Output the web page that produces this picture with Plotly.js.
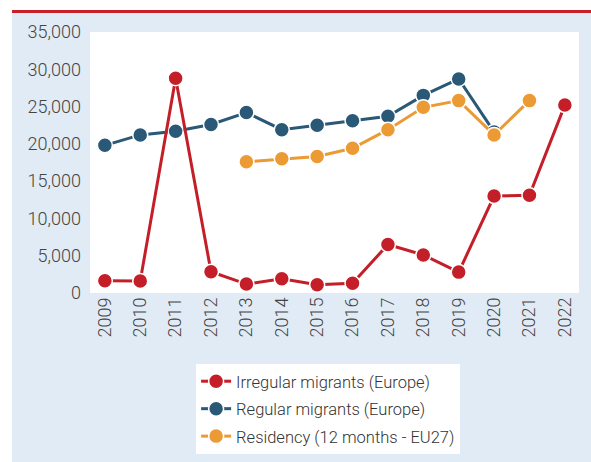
<!DOCTYPE html>
<html><head><meta charset="utf-8">
<script src="https://cdn.plot.ly/plotly-3.0.1.min.js"></script>
<style>
html,body{margin:0;padding:0;background:#fff;}
#bg{position:absolute;left:12px;top:13px;width:579px;height:449px;background:#e1ebf5;}
#topline{position:absolute;left:12px;top:10px;width:579px;height:3px;background:#c8202b;}
#chart{position:absolute;left:0;top:0;width:591px;height:462px;}
</style></head>
<body>
<div id="topline"></div>
<div id="bg"></div>
<div id="chart"></div>
<script>
const years = ["2009","2010","2011","2012","2013","2014","2015","2016","2017","2018","2019","2020","2021","2022"];
const irregular = [1650, 1600, 28800, 2850, 1200, 1900, 1100, 1300, 6500, 5100, 2800, 13000, 13100, 25200];
const regular = [19800, 21200, 21700, 22600, 24200, 21900, 22500, 23100, 23700, 26500, 28700, 21600, null, null];
const residency = [null, null, null, null, 17600, 18000, 18300, 19400, 21900, 24900, 25800, 21200, 25800, null];
const names = ["Irregular migrants (Europe)", "Regular migrants (Europe)", "Residency (12 months - EU27)"];
const colors = ["#c41f28", "#2a5877", "#ec9a34"];

function tr(y, i){
  return {x: years, y: y, name: names[i], type: 'scatter', mode: 'lines+markers',
    legendgroup: 'g'+i, connectgaps: false,
    line: {color: colors[i], width: 3},
    marker: {color: colors[i], size: 15, line: {color: '#ffffff', width: 1.5}}};
}
const data = [tr(regular,1), tr(residency,2), tr(irregular,0)];
data[2].legendrank = 1; data[0].legendrank = 2; data[1].legendrank = 3;

const tickFont = {family: 'Roboto, Liberation Sans, sans-serif', size: 18, color: '#444', weight: 300};
const layout = {
  width: 591, height: 462,
  margin: {l: 90, r: 12, t: 32, b: 169, autoexpand: false},
  paper_bgcolor: 'rgba(0,0,0,0)', plot_bgcolor: '#ffffff',
  showlegend: true,
  xaxis: {type: 'category', range: [-0.42, 13.4], tickangle: -90, tickfont: tickFont,
    showgrid: false, zeroline: false, showline: false, ticks: '', fixedrange: true, automargin: false},
  yaxis: {range: [0, 35000], tickvals: [0,5000,10000,15000,20000,25000,30000,35000],
    tickformat: ',d', tickfont: tickFont, showgrid: false, zeroline: false, showline: false,
    ticks: '', ticklabelstandoff: 8, automargin: false},
  legend: {x: 0.217, y: -0.272, xanchor: 'left', yanchor: 'top', bgcolor: '#ffffff',
    font: {family: 'Roboto, Liberation Sans, sans-serif', size: 16.5, color: '#333', weight: 300},
    traceorder: 'grouped', tracegroupgap: 3, itemwidth: 30, borderwidth: 0}
};
Plotly.newPlot('chart', data, layout, {displayModeBar: false, staticPlot: true});
</script>
</body></html>
